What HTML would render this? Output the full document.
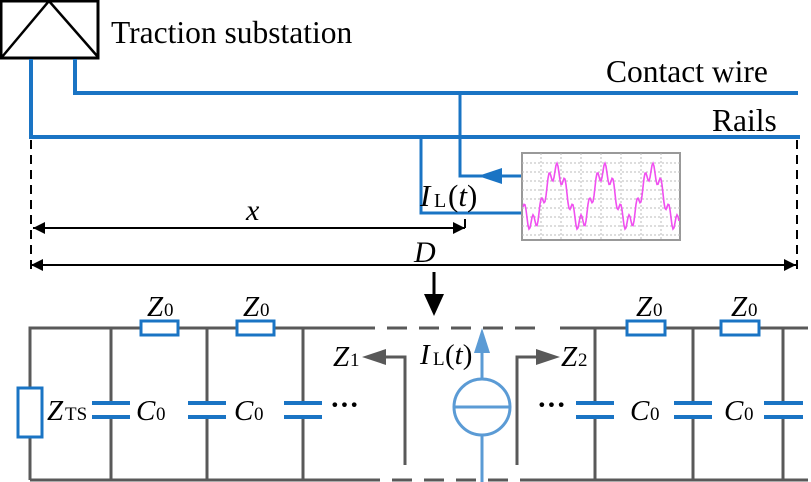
<!DOCTYPE html>
<html><head><meta charset="utf-8"><style>
html,body{margin:0;padding:0;background:#fff;}
svg{display:block;}
text{font-family:"Liberation Serif",serif;fill:#000;}
</style></head><body>
<svg width="811" height="482" viewBox="0 0 811 482" xmlns="http://www.w3.org/2000/svg">
<defs>
<marker id="ab" viewBox="0 0 10 10" refX="10" refY="5" markerWidth="22" markerHeight="12" markerUnits="userSpaceOnUse" orient="auto"><path d="M0,0L10,5L0,10z" fill="#000"/></marker>
</defs>
<rect x="1" y="1" width="97" height="57" fill="#fff" stroke="#000" stroke-width="3"/>
<path d="M2,57 L49,1 L98,57" fill="none" stroke="#000" stroke-width="2.5"/>
<text x="111" y="43" font-size="31.5">Traction substation</text>
<g stroke="#1a74c4" stroke-width="4" fill="none">
<path d="M31,59 V137 H800"/>
<path d="M75,59 V93 H798"/>
</g>
<text x="606" y="82" font-size="31.5">Contact wire</text>
<text x="712" y="131" font-size="31.5">Rails</text>
<g stroke="#1a74c4" stroke-width="3" fill="none">
<path d="M460,93 V176 H500"/>
<path d="M500,176 H522"/>
<path d="M421,137 V213 H523"/>
</g>
<path d="M478,176 L502,168 L502,184 z" fill="#1a74c4"/>
<text x="420" y="206" font-size="31" font-style="italic">I</text><text x="434" y="207" font-size="20">L</text><text x="448" y="206" font-size="31">(<tspan font-style="italic">t</tspan>)</text>
<rect x="522" y="153" width="158" height="87" fill="#fff" stroke="#999" stroke-width="2"/>
<g stroke="#bbb" stroke-width="1" stroke-dasharray="2,2">
<path d="M522,163H680M522,172H680M522,181H680M522,190H680M522,199H680M522,208H680M522,217H680M522,226H680M522,235H680"/>
<path d="M541,153V240M561,153V240M581,153V240M601,153V240M621,153V240M641,153V240M661,153V240"/>
</g>
<polyline id="wave" fill="none" stroke="#f050f0" stroke-width="1.6" points=""/>
<g stroke="#000" stroke-width="2" stroke-dasharray="9,6">
<path d="M31,140V274"/><path d="M797,140V274"/>
</g>
<path d="M465,219V228" stroke="#000" stroke-width="2"/>
<g stroke="#000" stroke-width="2">
<path d="M465,228H33" marker-end="url(#ab)"/>
<path d="M45,228H465" marker-end="url(#ab)"/>
<path d="M420,265H31" marker-end="url(#ab)"/>
<path d="M420,265H796" marker-end="url(#ab)"/>
</g>
<text x="246" y="220" font-size="30" font-style="italic">x</text>
<text x="414" y="262" font-size="30" font-style="italic">D</text>
<path d="M434,272V296" stroke="#000" stroke-width="3"/>
<path d="M424,294L444,294L434,316z" fill="#000"/>
<g stroke="#595959" stroke-width="3" fill="none">
<path d="M30,480V328H355"/>
<path d="M30,480H360"/>
<path d="M355,328H540" stroke-dasharray="20,12"/>
<path d="M360,480H540" stroke-dasharray="20,12"/>
<path d="M560,328H808"/>
<path d="M540,480H808"/>
<path d="M111,328V402M111,418V480M207,328V402M207,418V480M303,328V402M303,418V480"/>
<path d="M595,328V402M595,418V480M693,328V402M693,418V480M783,328V402M783,418V480"/>
<path d="M405,465V357H380"/>
<path d="M517,465V357H540"/>
</g>
<path d="M362,357L386,349L386,365z" fill="#595959"/>
<path d="M560,357L536,349L536,365z" fill="#595959"/>
<g fill="#fff" stroke="#1a74c4" stroke-width="3">
<rect x="18" y="388" width="24" height="49"/>
<rect x="141" y="321" width="37" height="14"/>
<rect x="237" y="321" width="37" height="14"/>
<rect x="627" y="321" width="38" height="14"/>
<rect x="721" y="321" width="38" height="14"/>
</g>
<g stroke="#1a74c4" stroke-width="4">
<path d="M92,403H130M92,417H130M188,403H226M188,417H226M284,403H322M284,417H322"/>
<path d="M576,403H614M576,417H614M674,403H712M674,417H712M764,403H803M764,417H803"/>
</g>
<g stroke="#5b9bd5" stroke-width="3" fill="none">
<circle cx="482" cy="407" r="28"/>
<path d="M454,407H510"/>
<path d="M482,379V350"/>
<path d="M482,435V482"/>
</g>
<path d="M482,328L474,353L490,353z" fill="#5b9bd5"/>
<g font-size="29">
<text x="147" y="316" font-style="italic">Z</text><text x="164" y="316" font-size="19">0</text>
<text x="243" y="316" font-style="italic">Z</text><text x="260" y="316" font-size="19">0</text>
<text x="636" y="316" font-style="italic">Z</text><text x="653" y="316" font-size="19">0</text>
<text x="731" y="316" font-style="italic">Z</text><text x="748" y="316" font-size="19">0</text>
<text x="47" y="420" font-style="italic">Z</text><text x="65" y="420" font-size="19">TS</text>
<text x="136" y="420" font-style="italic">C</text><text x="156" y="420" font-size="19">0</text>
<text x="234" y="420" font-style="italic">C</text><text x="254" y="420" font-size="19">0</text>
<text x="630" y="420" font-style="italic">C</text><text x="650" y="420" font-size="19">0</text>
<text x="724" y="420" font-style="italic">C</text><text x="744" y="420" font-size="19">0</text>
<text x="333" y="366" font-style="italic">Z</text><text x="350" y="366" font-size="19">1</text>
<text x="561" y="366" font-style="italic">Z</text><text x="578" y="366" font-size="19">2</text>
<text x="420" y="364" font-style="italic">I</text><text x="433" y="365" font-size="19">L</text><text x="445" y="364">(<tspan font-style="italic">t</tspan>)</text>
<text x="330" y="414" font-weight="bold">···</text>
<text x="537" y="414" font-weight="bold">···</text>
</g>
<script>
var p=[];for(var t=0;t<=156;t+=1){var x=523+t;var y=197-26*Math.sin(2*Math.PI*(t-21)/48)-8*Math.sin(2*Math.PI*t/8);p.push(x+","+y.toFixed(1));}
document.getElementById("wave").setAttribute("points",p.join(" "));
</script>
</svg>
</body></html>
